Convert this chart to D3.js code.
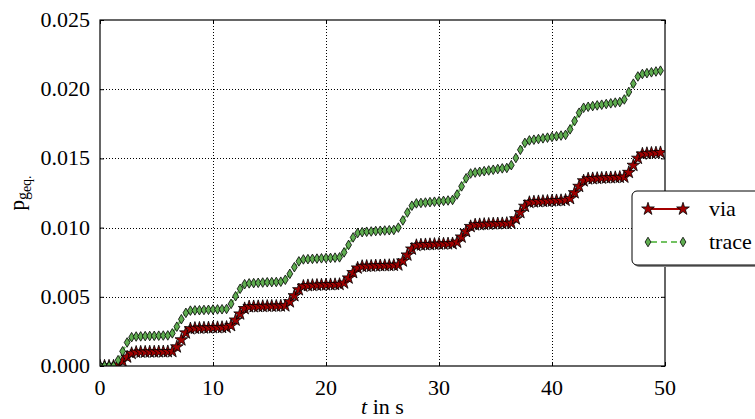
<!DOCTYPE html>
<html><head><meta charset="utf-8">
<script src="https://cdn.jsdelivr.net/npm/d3@7"></script>
</head><body style="margin:0"><svg id="c" width="755" height="419"></svg>
<script>
const time = [0,0.4,0.8,1.2,1.6,2,2.4,2.8,3.2,3.6,4,4.4,4.8,5.2,5.6,6,6.4,6.8,7.2,7.6,8,8.4,8.8,9.2,9.6,10,10.4,10.8,11.2,11.6,12,12.4,12.8,13.2,13.6,14,14.4,14.8,15.2,15.6,16,16.4,16.8,17.2,17.6,18,18.4,18.8,19.2,19.6,20,20.4,20.8,21.2,21.6,22,22.4,22.8,23.2,23.6,24,24.4,24.8,25.2,25.6,26,26.4,26.8,27.2,27.6,28,28.4,28.8,29.2,29.6,30,30.4,30.8,31.2,31.6,32,32.4,32.8,33.2,33.6,34,34.4,34.8,35.2,35.6,36,36.4,36.8,37.2,37.6,38,38.4,38.8,39.2,39.6,40,40.4,40.8,41.2,41.6,42,42.4,42.8,43.2,43.6,44,44.4,44.8,45.2,45.6,46,46.4,46.8,47.2,47.6,48,48.4,48.8,49.2,49.6];
const via = [0,0,0,0,0.00008,0.00035,0.00065,0.00091,0.00100,0.00101,0.00101,0.00102,0.00102,
0.00103,0.00103,0.00104,0.00105,0.00138,0.00189,0.00239,0.00269,0.00273,0.00274,0.00275,0.00276,
0.00277,0.00278,0.00279,0.0028,0.00292,0.00332,0.00376,0.00415,0.00428,0.00429,0.0043,0.00431,0.00432,
0.00433,0.00433,0.00434,0.00435,0.00464,0.00508,0.00551,0.00577,0.00581,0.00583,0.00584,0.00586,
0.00587,0.00588,0.00589,0.0059,0.006,0.00636,0.00675,0.00708,0.0072,0.00721,0.00722,0.00724,0.00725,
0.00726,0.00727,0.00728,0.0073,0.00759,0.00802,0.00845,0.00871,0.00875,0.00877,0.00878,0.0088,
0.00881,0.00882,0.00883,0.00884,0.00895,0.00932,0.00972,0.01008,0.0102,0.01022,0.01024,0.01025,0.01027,
0.01028,0.01029,0.01031,0.01032,0.01063,0.01109,0.01154,0.01182,0.01186,0.01188,0.0119,0.01191,
0.01193,0.01195,0.01196,0.01198,0.0121,0.01252,0.01298,0.01338,0.01352,0.01354,0.01356,0.01358,0.0136,
0.01361,0.01362,0.01364,0.01365,0.01399,0.0145,0.01501,0.01532,0.01536,0.01538,0.0154,0.01542];
const trace = [0,0,0,0,0.00042,0.00106,0.0017,0.00208,0.00213,0.00214,0.00216,0.00217,0.00218,
0.00219,0.0022,0.00221,0.00236,0.00284,0.00338,0.00384,0.004,0.00402,0.00403,0.00405,0.00406,
0.00408,0.00409,0.0041,0.00412,0.00449,0.00504,0.00558,0.00591,0.00597,0.00599,0.00601,0.00603,0.00605,
0.00606,0.00607,0.00609,0.00623,0.00666,0.00714,0.00756,0.0077,0.00772,0.00774,0.00776,0.00778,
0.0078,0.00781,0.00783,0.00785,0.00821,0.00875,0.00929,0.00961,0.00967,0.0097,0.00972,0.00975,0.00977,
0.00979,0.00981,0.00983,0.01,0.01052,0.01109,0.01158,0.01175,0.01178,0.01181,0.01184,0.01187,
0.0119,0.01193,0.01196,0.012,0.01239,0.01298,0.01356,0.01391,0.01398,0.01403,0.01408,0.01413,0.01418,
0.01423,0.01428,0.01431,0.01451,0.01503,0.01562,0.01612,0.0163,0.01635,0.0164,0.01645,0.0165,
0.01655,0.0166,0.01665,0.0167,0.0171,0.0177,0.0183,0.01866,0.01873,0.01878,0.01883,0.01888,0.01893,
0.01898,0.01903,0.01907,0.01926,0.0198,0.0204,0.02092,0.0211,0.02116,0.02122,0.02128,0.02134];
const xTicks = [0,10,20,30,40,50];
const yTicks = [0,0.005,0.010,0.015,0.020,0.025];
const yTickLabels = ["0.000","0.005","0.010","0.015","0.020","0.025"];
const seriesNames = ["via","trace"];

const FONT = "'Liberation Serif'";
const FONT2 = "'Times New Roman'";
const svg = d3.select("#c");
const L=100,R=665,T=20,B=366;
const x = d3.scaleLinear().domain([0,50]).range([L,R]);
const y = d3.scaleLinear().domain([0,0.025]).range([B,T]);

svg.append("defs").append("clipPath").attr("id","clip").append("rect")
  .attr("x",L).attr("y",T).attr("width",R-L).attr("height",B-T);

// grid
const g = svg.append("g");
g.selectAll(".gx").data(xTicks.slice(1,-1)).enter().append("line")
  .attr("x1",d=>Math.round(x(d))+0.5).attr("x2",d=>Math.round(x(d))+0.5).attr("y1",T).attr("y2",B)
  .attr("stroke","#000").attr("stroke-width",1).attr("stroke-dasharray","1,2");
g.selectAll(".gy").data(yTicks.slice(1,-1)).enter().append("line")
  .attr("y1",d=>Math.round(y(d))+0.5).attr("y2",d=>Math.round(y(d))+0.5).attr("x1",L).attr("x2",R)
  .attr("stroke","#000").attr("stroke-width",1).attr("stroke-dasharray","1,2");

// ticks (inward) on all four sides
const tickG = svg.append("g");
[["axisBottom",B,"x"],["axisTop",T,"x"]].forEach(([fn,pos])=>{
  tickG.append("g").attr("transform",`translate(0,${pos})`).call(d3[fn](x).tickValues(xTicks).tickSize(-4).tickFormat(""));
});
[["axisLeft",L],["axisRight",R]].forEach(([fn,pos])=>{
  tickG.append("g").attr("transform",`translate(${pos},0)`).call(d3[fn](y).tickValues(yTicks).tickSize(-4).tickFormat(""));
});
tickG.selectAll(".domain").remove();
tickG.selectAll("line").attr("stroke","#000");

// tick labels as plain text
svg.selectAll(".xl").data(xTicks).enter().append("text")
  .attr("x",d=>x(d)).attr("y",B+29).attr("text-anchor","middle")
  .style("font-family",FONT).style("font-size","22px").text(d=>d);
svg.selectAll(".yl").data(yTicks).enter().append("text")
  .attr("x",L-10).attr("y",d=>y(d)+7).attr("text-anchor","end")
  .style("font-family",FONT).style("font-size","22px").text((d,i)=>yTickLabels[i]);

const data = time.map((t,i)=>({t,v:via[i],g:trace[i]}));
const plot = svg.append("g").attr("clip-path","url(#clip)");

const viaColor="#a50000", starFill="#a00000", greenLine="#72c262", greenFill="#5fad50";
const star = d3.symbol().type(d3.symbolStar).size(50);
const diamond = "M0,-4.8L2.9,0L0,4.8L-2.9,0Z";

plot.append("path").datum(data).attr("fill","none").attr("stroke",viaColor).attr("stroke-width",2.2)
  .attr("d",d3.line().x(d=>x(d.t)).y(d=>y(d.v)));
plot.selectAll(".s").data(data).enter().append("path")
  .attr("transform",d=>`translate(${x(d.t)},${y(d.v)})`).attr("d",star())
  .attr("fill",starFill).attr("stroke","#000").attr("stroke-width",0.8);

plot.append("path").datum(data).attr("fill","none").attr("stroke",greenLine).attr("stroke-width",2.2)
  .attr("stroke-dasharray","6,4").attr("d",d3.line().x(d=>x(d.t)).y(d=>y(d.g)));
plot.selectAll(".d").data(data).enter().append("path")
  .attr("transform",d=>`translate(${x(d.t)},${y(d.g)})`).attr("d",diamond)
  .attr("fill",greenFill).attr("stroke","#000").attr("stroke-width",0.8);

// frame
svg.append("rect").attr("x",L).attr("y",T).attr("width",R-L).attr("height",B-T)
  .attr("fill","none").attr("stroke","#000").attr("stroke-width",1.2);

// labels
const xl = svg.append("text").attr("x",(L+R)/2).attr("y",414).attr("text-anchor","middle")
  .style("font-family",FONT).style("font-size","22px");
xl.append("tspan").style("font-style","italic").text("t");
xl.append("tspan").text(" in s");
const yl = svg.append("text").attr("transform",`translate(24,${(T+B)/2}) rotate(-90)`).attr("text-anchor","middle")
  .style("font-family",FONT).style("font-size","21px");
yl.append("tspan").text("p");
yl.append("tspan").style("font-size","16px").attr("dy",4).text("g");
yl.append("tspan").style("font-size","14px").attr("dy",3).text("eq.");

// legend
svg.append("rect").attr("x",634).attr("y",193).attr("width",150).attr("height",74).attr("rx",5).attr("fill","#888");
svg.append("rect").attr("x",632).attr("y",191).attr("width",150).attr("height",74).attr("rx",5)
  .attr("fill","#fff").attr("stroke","#000").attr("stroke-width",1);
const items = [{name:seriesNames[0],y:209,type:"s"},{name:seriesNames[1],y:242,type:"d"}];
items.forEach(it=>{
  if(it.type==="s"){
    svg.append("line").attr("x1",648).attr("x2",683).attr("y1",it.y).attr("y2",it.y).attr("stroke",viaColor).attr("stroke-width",2.2);
    [648,683].forEach(px=>svg.append("path").attr("transform",`translate(${px},${it.y})`).attr("d",star()).attr("fill",starFill).attr("stroke","#000").attr("stroke-width",0.8));
  } else {
    svg.append("line").attr("x1",648).attr("x2",683).attr("y1",it.y).attr("y2",it.y).attr("stroke",greenLine).attr("stroke-width",2.2).attr("stroke-dasharray","6,4").attr("stroke-dashoffset",-3);
    [648,683].forEach(px=>svg.append("path").attr("transform",`translate(${px},${it.y})`).attr("d",diamond).attr("fill",greenFill).attr("stroke","#000").attr("stroke-width",0.8));
  }
  svg.append("text").attr("x",709).attr("y",it.y+7).style("font-family",FONT2).style("font-size","22px").text(it.name);
});
</script></body></html>
